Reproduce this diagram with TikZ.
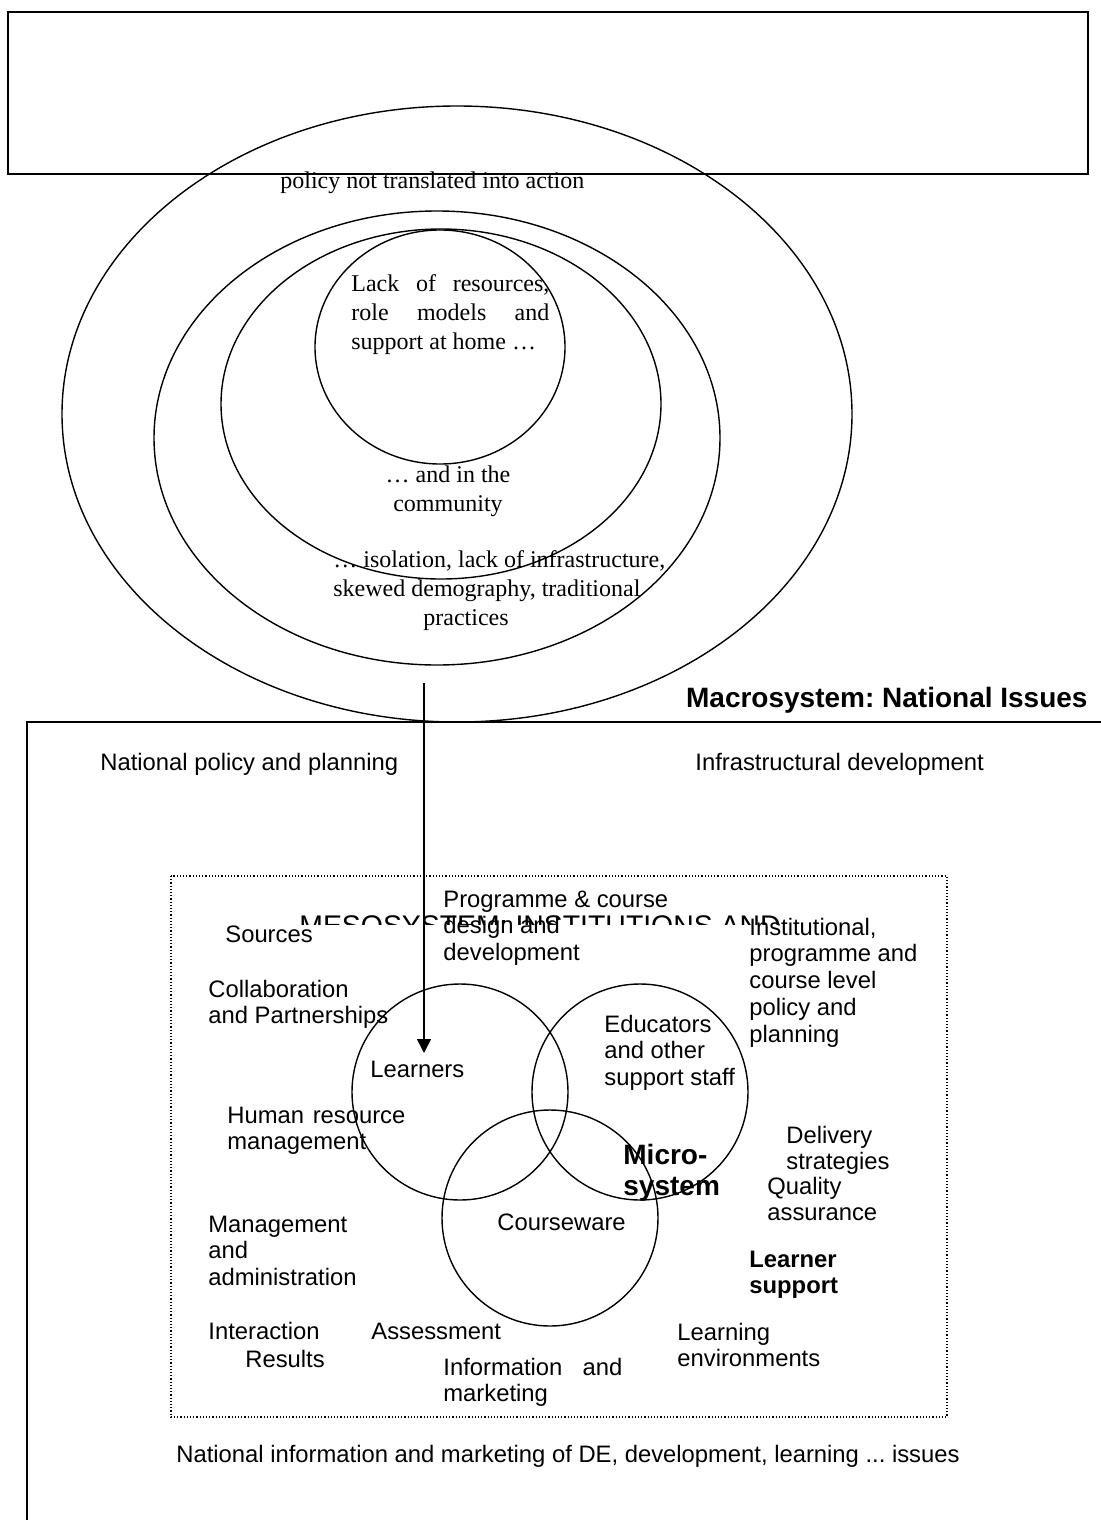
\documentclass[tikz,border=0pt]{standalone}
\usepackage{fontspec}
\setmainfont{Liberation Serif}
\setsansfont{Liberation Sans}
\usetikzlibrary{arrows.meta}
\frenchspacing
\newcommand\mlL[1]{\begin{tabular}[t]{@{}l@{}}#1\end{tabular}}
\newcommand\mlC[1]{\begin{tabular}[t]{@{}c@{}}#1\end{tabular}}
\tikzset{
  sanstxt/.style={font=\sffamily\fontsize{11.9}{13.4}\selectfont, inner sep=0pt, anchor=base west},
  sansbold/.style={font=\sffamily\bfseries\fontsize{11.9}{13.4}\selectfont, inner sep=0pt, anchor=base west},
  seriftxt/.style={font=\rmfamily\fontsize{12}{14.5}\selectfont, inner sep=0pt, anchor=base west},
  ring/.style={draw=black, line width=0.7pt},
  thinline/.style={draw=black, line width=0.7pt},
}
\begin{document}
\begin{tikzpicture}[x=0.5pt,y=-0.5pt]
\useasboundingbox[fill=white] (0,0) rectangle (1101,1520);

% top box
\draw[thinline] (8,12) rectangle (1088,174);
\draw[line width=1.3pt] (8,12) -- (1088,12);
\draw[line width=1.3pt] (8,174) -- (1088,174);

% ecological ellipses
\draw[ring] (457,414) ellipse [x radius=395, y radius=308];
\draw[ring] (437,438) ellipse [x radius=283, y radius=227];
\draw[ring] (441,404) ellipse [x radius=220, y radius=175];
\draw[ring] (440,347) ellipse [x radius=125, y radius=117];

\node[seriftxt] (policy) at (280,188) {policy not translated into action};
\node[seriftxt] (home) at (351,291) {\parbox[t]{99pt}{Lack of resources,\linebreak role models and\linebreak support at home \ldots}};
\node[seriftxt, anchor=base] (community) at (448,482) {\mlC{\ldots\ and in the\\ community}};
\node[seriftxt] (isolation) at (333,567) {\mlL{\ldots\ isolation, lack of infrastructure,\\ skewed demography, traditional\\ \hspace*{45pt}practices}};

% macrosystem frame
\node[font=\sffamily\bfseries\fontsize{14}{16}\selectfont, inner sep=0pt, anchor=base east] (macro) at (1088,707) {Macrosystem: National Issues};
\draw[line width=0.9pt] (1101,722) -- (27,722) -- (27,1520);

\node[sanstxt] (natpol) at (100,770) {National policy and planning};
\node[sanstxt] (infra) at (695,770) {Infrastructural development};

% mesosystem (dotted box)
\draw[black, line width=0.6pt, densely dotted] (171,876) rectangle (947,1417);
\begin{scope}
  \clip (280,895) rectangle (800,924);
  \node[font=\sffamily\fontsize{14.2}{16}\selectfont, inner sep=0pt, anchor=base] (meso) at (540,935) {MESOSYSTEM: INSTITUTIONS AND};
\end{scope}

\node[sanstxt] (prog) at (443,907) {\mlL{Programme \& course\\ design and\\ development}};
\node[sanstxt] (sources) at (225,942) {Sources};
\node[sanstxt] (collab) at (208,997) {\mlL{Collaboration\\ and Partnerships}};
\node[sanstxt] (instit) at (749,935) {\mlL{Institutional,\\ programme and\\ course level\\ policy and\\ planning}};
\node[sanstxt] (hrm) at (227,1123) {\parbox[t]{89pt}{Human resource\linebreak management}};
\node[sanstxt] (delivery) at (786,1143) {\mlL{Delivery\\ strategies}};
\node[sanstxt] (quality) at (767,1194) {\mlL{Quality\\ assurance}};
\node[sansbold] (lsupport) at (749,1267) {\mlL{Learner\\ support}};
\node[sanstxt] (mgmt) at (208,1232) {\mlL{Management\\ and\\ administration}};
\node[sanstxt] (interaction) at (208,1339) {Interaction};
\node[sanstxt] (assessment) at (371,1339) {Assessment};
\node[sanstxt] (results) at (245,1367) {Results};
\node[sanstxt] (infomark) at (443,1375) {\parbox[t]{89.5pt}{Information and\linebreak marketing}};
\node[sanstxt] (learnenv) at (677,1340) {\mlL{Learning\\ environments}};

% microsystem (Venn)
\draw[ring] (460,1092) circle [radius=108];
\draw[ring] (640,1092) circle [radius=108];
\draw[ring] (550,1218) circle [radius=108];
\node[sanstxt] (learners) at (370,1077) {Learners};
\node[sanstxt] (educators) at (604,1032) {\mlL{Educators\\ and other\\ support staff}};
\node[sanstxt] (courseware) at (497,1230) {Courseware};
\node[font=\sffamily\bfseries\fontsize{14}{15.5}\selectfont, inner sep=0pt, anchor=base west] (micro) at (623,1164) {\mlL{Micro-\\ system}};

% arrow from the outer issues to learners
\coordinate (arrowstart) at (424,683);
\coordinate (arrowtip) at (424,1053);
\draw[line width=0.8pt, -{Triangle[width=7pt,length=7pt]}] (arrowstart) -- (arrowtip);

\node[sanstxt, anchor=base] (natinfo) at (568,1462) {National information and marketing of DE, development, learning ... issues};
\end{tikzpicture}
\end{document}
